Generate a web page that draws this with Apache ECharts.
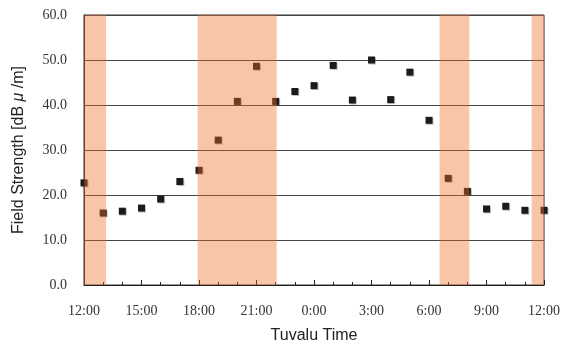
<!DOCTYPE html>
<html>
<head>
<meta charset="utf-8">
<script src="https://cdn.jsdelivr.net/npm/echarts@6/dist/echarts.min.js"></script>
<style>
  html, body { margin: 0; padding: 0; background: #fff; }
  #main { width: 563px; height: 349px; }
</style>
</head>
<body>
<div id="main"></div>
<script>
// hours elapsed since 12:00 (Tuvalu time)
var hours = [0, 1, 2, 3, 4, 5, 6, 7, 8, 9, 10, 11, 12, 13, 14, 15, 16, 17, 18, 19, 20, 21, 22, 23, 24];
// field strength [dB μ/m]
var strength = [22.7, 16.0, 16.4, 17.1, 19.1, 23.0, 25.5, 32.2, 40.8, 48.6, 40.8, 43.0, 44.3,
  48.8, 41.1, 50.0, 41.2, 47.3, 36.6, 23.7, 20.8, 16.9, 17.5, 16.6, 16.6];
// x tick labels, one per 3 hours
var timeLabels = ['12:00', '15:00', '18:00', '21:00', '0:00', '3:00', '6:00', '9:00', '12:00'];
// shaded periods [start, end] in hours since 12:00
var bands = [[0, 1.15], [5.93, 10.05], [18.55, 20.1], [23.35, 24]];

var chart = echarts.init(document.getElementById('main'));

var points = hours.map(function (h, i) { return [h, strength[i]]; });

var nameStyle = { fontFamily: 'Liberation Sans', fontSize: 16, color: '#222' };

chart.setOption({
  animation: false,
  grid: {
    left: 84,
    right: 17,
    top: 15,
    bottom: 62,
    show: true,
    borderColor: '#333',
    borderWidth: 1,
    backgroundColor: 'transparent'
  },
  xAxis: {
    type: 'value',
    min: 0,
    max: 24,
    interval: 3,
    name: 'Tuvalu Time',
    nameLocation: 'middle',
    nameGap: 43,
    nameTextStyle: nameStyle,
    axisLine: { lineStyle: { color: '#222', width: 1 } },
    axisTick: { show: true, inside: true, length: 5, lineStyle: { color: '#222' } },
    minorTick: { show: true, splitNumber: 3, length: 3, lineStyle: { color: '#222' } },
    splitLine: { show: false },
    axisLabel: {
      margin: 19,
      fontFamily: 'Liberation Serif',
      fontSize: 14,
      color: '#333',
      formatter: function (v) { return timeLabels[Math.round(v / 3)]; }
    }
  },
  yAxis: {
    type: 'value',
    min: 0,
    max: 60,
    interval: 10,
    name: '{a|Field Strength [dB }{b|μ}{a| /m]}',
    nameLocation: 'middle',
    nameGap: 57,
    nameTextStyle: {
      fontFamily: 'Liberation Sans', fontSize: 16, color: '#222',
      rich: {
        a: nameStyle,
        b: { fontFamily: 'Liberation Sans', fontSize: 16, color: '#222', fontStyle: 'italic' }
      }
    },
    axisLine: { show: true, lineStyle: { color: '#222', width: 1 } },
    axisTick: { show: false },
    splitLine: { show: true, lineStyle: { color: '#444', width: 1 } },
    axisLabel: {
      margin: 17,
      fontFamily: 'Liberation Serif',
      fontSize: 14,
      color: '#333',
      formatter: function (v) { return v.toFixed(1); }
    }
  },
  series: [{
    name: 'strength',
    type: 'scatter',
    z: 2,
    symbol: 'rect',
    symbolSize: 7,
    itemStyle: {
      color: '#1c1a1a',
      opacity: 1,
      shadowColor: 'rgba(0,0,0,0.25)',
      shadowBlur: 0,
      shadowOffsetX: 1,
      shadowOffsetY: 1
    },
    data: points,
    // 陰影 (shaded periods) drawn above the markers
    markArea: {
      silent: true,
      z: 10,
      itemStyle: { color: 'rgba(240,110,40,0.4)' },
      data: bands.map(function (b) { return [{ xAxis: b[0] }, { xAxis: b[1] }]; })
    }
  }]
});
</script>
</body>
</html>
